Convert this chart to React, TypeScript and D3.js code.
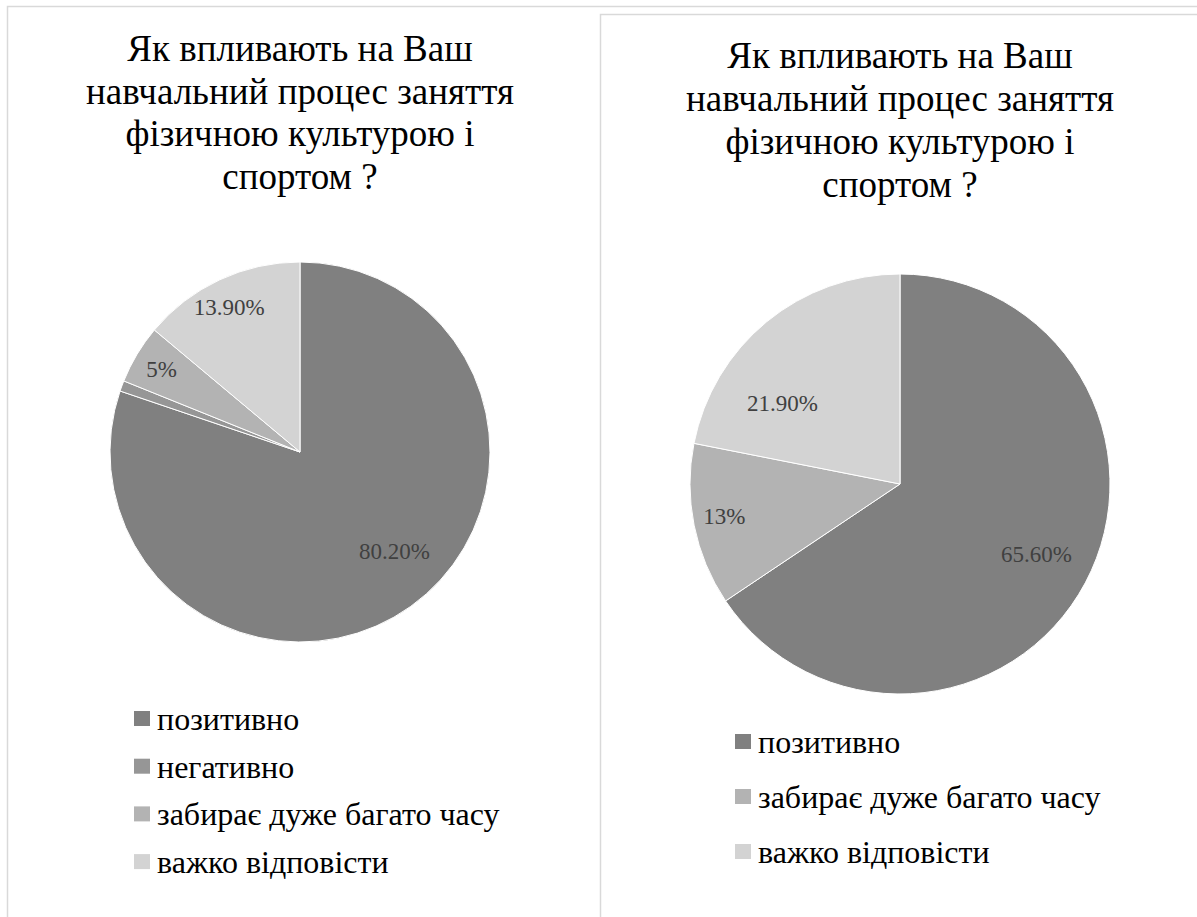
import React, { useEffect, useRef } from 'react';
import * as d3 from 'd3';

const TITLE_LINES = ['Як впливають на Ваш', 'навчальний процес заняття', 'фізичною культурою і', 'спортом ?'];

// left chart
const leftCategories = ['позитивно', 'негативно', 'забирає дуже багато часу', 'важко відповісти'];
const leftValues = [80.2, 0.9, 5, 13.9];
const leftLabels = ['80.20%', '', '5%', '13.90%'];
const leftColors = ['#808080', '#969696', '#b3b3b3', '#d3d3d3'];

// right chart
const rightCategories = ['позитивно', 'забирає дуже багато часу', 'важко відповісти'];
const rightValues = [65.6, 12.5, 21.9];
const rightLabels = ['65.60%', '13%', '21.90%'];
const rightColors = ['#808080', '#b3b3b3', '#d3d3d3'];

const FONT = "'Liberation Serif'";

interface PanelCfg {
  x: number;
  y: number;
  categories: string[];
  values: number[];
  labels: string[];
  colors: string[];
  cx: number;
  cy: number;
  r: number;
  titleY: number;
  titleStep: number;
  legendX: number;
  legendY: number;
  legendStep: number;
  // excel "best fit" label spots: radius fraction + angle shift (deg)
  labelPos: { k: number; shift: number }[];
}

const panels: PanelCfg[] = [
  {
    x: 7, y: 6, categories: leftCategories, values: leftValues, labels: leftLabels, colors: leftColors,
    cx: 300, cy: 452, r: 190, titleY: 61, titleStep: 42.5, legendX: 134, legendY: 730, legendStep: 47.7,
    labelPos: [{ k: 0.72, shift: -8 }, { k: 0.85, shift: 0 }, { k: 0.85, shift: 0 }, { k: 0.85, shift: -1 }]
  },
  {
    x: 600, y: 14, categories: rightCategories, values: rightValues, labels: rightLabels, colors: rightColors,
    cx: 900, cy: 484, r: 210, titleY: 68, titleStep: 43, legendX: 735, legendY: 753, legendStep: 55,
    labelPos: [{ k: 0.73, shift: -1 }, { k: 0.85, shift: 1 }, { k: 0.68, shift: -16 }]
  }
];

export default function App() {
  const svgRef = useRef<SVGSVGElement>(null);

  useEffect(() => {
    if (!svgRef.current) return;
    const svg = d3.select(svgRef.current);
    svg.selectAll('*').remove();

    panels.forEach(p => {
      const g = svg.append('g');

      g.append('rect')
        .attr('x', p.x + 0.5)
        .attr('y', p.y + 0.5)
        .attr('width', 1200)
        .attr('height', 1000)
        .attr('fill', '#fff')
        .attr('stroke', '#d9d9d9')
        .attr('stroke-width', 1.5);

      g.selectAll('.title')
        .data(TITLE_LINES)
        .enter()
        .append('text')
          .attr('class', 'title')
          .attr('x', p.cx)
          .attr('y', (d, i) => p.titleY + i * p.titleStep)
          .attr('text-anchor', 'middle')
          .style('font-family', FONT)
          .style('font-size', '37px')
          .style('fill', '#000')
          .text(d => d);

      const arcs = d3.pie<number>().sort(null).value(d => d)(p.values);
      const arc = d3.arc<d3.PieArcDatum<number>>().innerRadius(0).outerRadius(p.r);
      const pieG = g.append('g').attr('transform', `translate(${p.cx},${p.cy})`);

      pieG.selectAll('path')
        .data(arcs)
        .enter()
        .append('path')
          .attr('d', d => arc(d) || '')
          .attr('fill', (d, i) => p.colors[i])
          .attr('stroke', '#fff')
          .attr('stroke-width', 1);

      // data labels
      pieG.selectAll('.lbl')
        .data(arcs.filter((d, i) => p.labels[i] !== ''))
        .enter()
        .append('text')
          .attr('class', 'lbl')
          .attr('x', d => {
            const pos = p.labelPos[d.index];
            const mid = (d.startAngle + d.endAngle) / 2 + (pos.shift * Math.PI) / 180;
            return Math.sin(mid) * pos.k * p.r;
          })
          .attr('y', d => {
            const pos = p.labelPos[d.index];
            const mid = (d.startAngle + d.endAngle) / 2 + (pos.shift * Math.PI) / 180;
            return -Math.cos(mid) * pos.k * p.r + 8;
          })
          .attr('text-anchor', 'middle')
          .style('font-family', FONT)
          .style('font-size', '23px')
          .style('fill', '#404040')
          .text(d => p.labels[d.index]);

      // legend
      const leg = g.selectAll('.leg')
        .data(p.categories)
        .enter()
        .append('g')
          .attr('class', 'leg')
          .attr('transform', (d, i) => `translate(${p.legendX},${p.legendY + i * p.legendStep})`);

      leg.append('rect')
        .attr('x', 0)
        .attr('y', -19)
        .attr('width', 16)
        .attr('height', 15)
        .attr('fill', (d, i) => p.colors[i]);

      leg.append('text')
        .attr('x', 23)
        .attr('y', 0)
        .style('font-family', FONT)
        .style('font-size', '32px')
        .style('fill', '#000')
        .text(d => d);
    });
  }, []);

  return (
    <svg
      ref={svgRef}
      width={1197}
      height={917}
      style={{ position: 'absolute', left: 0, top: 0, background: '#fff' }}
    />
  );
}
